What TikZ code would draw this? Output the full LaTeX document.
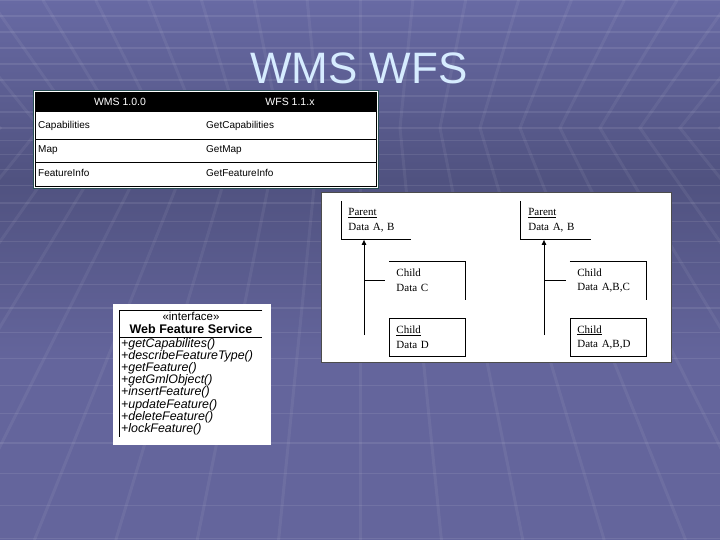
\documentclass[tikz,border=0pt]{standalone}
\usepackage{fontspec}
\setmainfont{Liberation Serif}
\setsansfont{Liberation Sans}
\usetikzlibrary{arrows.meta,positioning}

\definecolor{bglight}{RGB}{104,106,164}
\definecolor{bgdark}{RGB}{80,82,128}
\definecolor{bgmid}{RGB}{100,101,156}
\definecolor{titleblue}{RGB}{214,236,255}
\definecolor{frameteal}{RGB}{40,78,84}

\begin{document}
\begin{tikzpicture}[x=1pt,y=-1pt,
  gridline/.style={white,opacity=0.09,line width=1.4pt},
  slantline/.style={white,opacity=0.06,line width=3pt},
  title/.style={font=\sffamily\fontsize{44}{44}\selectfont,text=titleblue,inner sep=0pt},
  panel/.style={fill=white,inner sep=0pt,anchor=north west},
  head/.style={font=\sffamily\fontsize{10.5}{12}\selectfont,text=white,inner sep=0pt},
  cell/.style={font=\sffamily\fontsize{10}{11}\selectfont,inner sep=0pt,anchor=west},
  umlbox/.style={line width=0.9pt,anchor=north west,align=left,inner xsep=7pt,
                 inner ysep=0pt,minimum height=38,font=\fontsize{11}{14.5}\selectfont},
  inherit/.style={-{Triangle[length=5pt,width=4.5pt]},line width=0.9pt},
  method/.style={font=\sffamily\itshape\fontsize{12.4}{12}\selectfont,inner sep=0pt,anchor=base west}]

\useasboundingbox (0,0) rectangle (720,540);

% slide background
\shade[top color=bglight,bottom color=bgdark] (0,0) rectangle (720,180);
\shade[top color=bgdark,bottom color=bgmid] (0,180) rectangle (720,360);
\fill[bgmid] (0,360) rectangle (720,540);
\begin{scope}
  \clip (0,0) rectangle (720,540);
  \foreach \n in {1,...,8}
    \draw[gridline] (0,{128-16*\n}) -- (720,{128-16*\n});
  \foreach \n in {0,...,18}
    \draw[gridline] (0,{128+12*\n+0.6*\n*\n}) -- (720,{128+12*\n+0.6*\n*\n});
  \foreach \k in {-10,...,10}
    \draw[slantline] ({360+40*\k*1.3216},0) -- ({360+40*\k},128) -- ({360+40*\k*2.035},540);
\end{scope}

\node[title,anchor=base] (title) at (359,84) {WMS WFS};

% WMS / WFS table
\node[panel,draw=frameteal,minimum width=345,minimum height=98] (wmsframe) at (33,90) {};
\node[draw,line width=0.9pt,inner sep=0pt,anchor=north west,minimum width=341,minimum height=94] (wmstab) at (35,92) {};
\fill[black] (35,92) rectangle (376,112);
\draw[line width=0.9pt] (35,139) -- (376,139);
\draw[line width=0.9pt] (35,162) -- (376,162);
\node[head] (hwms) at (120,102) {WMS 1.0.0};
\node[head] (hwfs) at (290,102) {WFS 1.1.x};
\node[cell] (capa) at (38,126) {Capabilities};
\node[cell] (capb) at (206,126) {GetCapabilities};
\node[cell] (mapa) at (38,150) {Map};
\node[cell] (mapb) at (206,150) {GetMap};
\node[cell] (fia) at (38,173) {FeatureInfo};
\node[cell] (fib) at (206,173) {GetFeatureInfo};

% inheritance sketch
\node[panel,draw=black!70,line width=1pt,minimum width=350,minimum height=170] (inhframe) at (321,192) {};

\node[umlbox,minimum width=69,text width=55] (parentL) at (341,201) {\underline{Parent}\\Data A, B};
\node[umlbox,minimum width=69,text width=55,right=110pt of parentL] (parentR) {\underline{Parent}\\Data A, B};
\node[umlbox,minimum width=76,text width=62] (childCL) at (389,261) {Child\\Data C};
\node[umlbox,minimum width=76,text width=62,right=104pt of childCL] (childCR) {Child\\Data A,B,C};
\node[umlbox,draw,minimum width=76,text width=62,below=18pt of childCL] (childDL) {\underline{Child}\\Data D};
\node[umlbox,draw,minimum width=76,text width=62,below=18pt of childCR] (childDR) {\underline{Child}\\Data A,B,D};

\foreach \p in {parentL,parentR}
  \draw[line width=0.9pt] (\p.north west) |- (\p.south east);
\foreach \c in {childCL,childCR}
  \draw[line width=0.9pt] (\c.north west) -| (\c.south east);

\coordinate (stemL) at (364,335);
\coordinate (stemR) at (544,335);
\draw[inherit] (stemL) -- (stemL |- parentL.south);
\draw[inherit] (stemR) -- (stemR |- parentR.south);
\draw[line width=0.9pt] (stemL |- childCL.west) -- ([xshift=-4pt]childCL.west);
\draw[line width=0.9pt] (stemR |- childCR.west) -- ([xshift=-4pt]childCR.west);

% interface box
\node[panel,minimum width=158,minimum height=141] (wfsframe) at (113,304) {};
\node[inner sep=0pt,anchor=north west,minimum width=143,minimum height=127] (wfsclass) at (119,310) {};
\draw[line width=0.9pt] (wfsclass.north east) -- (wfsclass.north west) -- (wfsclass.south west);
\draw[line width=0.9pt] (119,337) -- (262,337);
\node[font=\sffamily\fontsize{11.5}{12}\selectfont,inner sep=0pt] (stereo) at (191,316) {«interface»};
\node[font=\sffamily\bfseries\fontsize{12.5}{13}\selectfont,inner sep=0pt] (wfsname) at (191,329) {Web Feature Service};
\foreach \m [count=\i] in {+getCapabilites(),+describeFeatureType(),+getFeature(),+getGmlObject(),
    +insertFeature(),+updateFeature(),+deleteFeature(),+lockFeature()}
  \node[method] (m\i) at (121,{347.5+12.1*(\i-1)}) {\m};
\end{tikzpicture}
\end{document}
